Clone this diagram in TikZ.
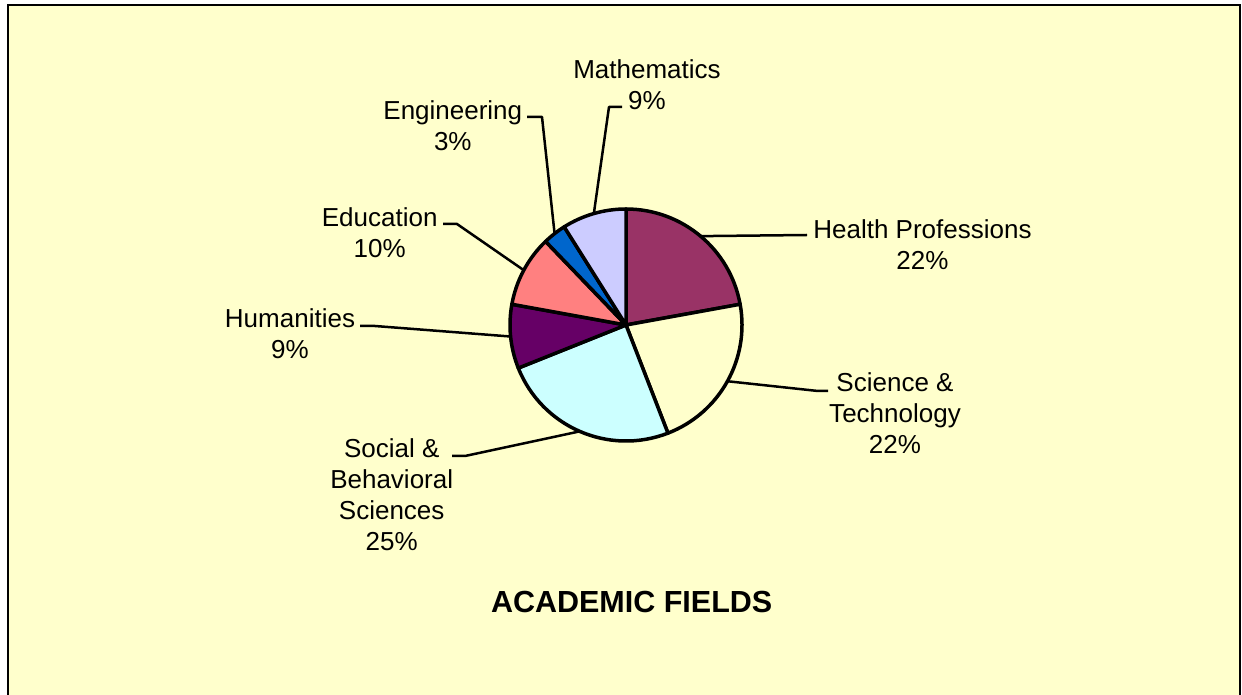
\documentclass[tikz,border=0pt]{standalone}
\usepackage{fontspec}
\setmainfont{Liberation Sans}
\usepackage{xcolor}
\usetikzlibrary{calc}

\definecolor{chartbg}{HTML}{FFFFCC}
\definecolor{healthcol}{HTML}{993366}
\definecolor{sciencecol}{HTML}{FFFFCC}
\definecolor{socialcol}{HTML}{CCFFFF}
\definecolor{humancol}{HTML}{660066}
\definecolor{educol}{HTML}{FF8080}
\definecolor{engcol}{HTML}{0066CC}
\definecolor{mathcol}{HTML}{CCCCFF}

\begin{document}
\begin{tikzpicture}[x=1pt,y=1pt,
                    pie slice/.style={draw=black,line width=3.5pt,line join=round},
                    leader/.style={draw=black,line width=2.5pt,line join=round},
                    label text/.style={align=center,anchor=north,inner sep=0pt,
                                       font=\fontsize{26}{31}\selectfont}]
\useasboundingbox (0,0) rectangle (1242,694);
\clip (0,0) rectangle (1242,694);
\filldraw[fill=chartbg,line width=2pt] (8,-10) rectangle (1240,689);

% pie
\coordinate (c) at (626,369);
\filldraw[pie slice,fill=healthcol] (c) -- ++(90:116) arc[start angle=90,end angle=10.3,radius=116] -- cycle;
\filldraw[pie slice,fill=sciencecol] (c) -- ++(10.3:116) arc[start angle=10.3,end angle=-68.8,radius=116] -- cycle;
\filldraw[pie slice,fill=socialcol] (c) -- ++(-68.8:116) arc[start angle=-68.8,end angle=-158.2,radius=116] -- cycle;
\filldraw[pie slice,fill=humancol] (c) -- ++(-158.2:116) arc[start angle=-158.2,end angle=-190.3,radius=116] -- cycle;
\filldraw[pie slice,fill=educol] (c) -- ++(-190.3:116) arc[start angle=-190.3,end angle=-226.1,radius=116] -- cycle;
\filldraw[pie slice,fill=engcol] (c) -- ++(-226.1:116) arc[start angle=-226.1,end angle=-237.8,radius=116] -- cycle;
\filldraw[pie slice,fill=mathcol] (c) -- ++(-237.8:116) arc[start angle=-237.8,end angle=-270,radius=116] -- cycle;

% labels
\node[label text] (health) at (922.5,474.7) {Health Professions\\22\%};
\node[label text] (science) at (895,321.7) {Science \&\\Technology\\22\%};
\node[label text] (social) at (391.7,256) {Social \&\\Behavioral\\Sciences\\25\%};
\node[label text] (humanities) at (290,386) {Humanities\\9\%};
\node[label text] (education) at (379.7,486.7) {Education\\10\%};
\node[label text] (engineering) at (452.8,594) {Engineering\\3\%};
\node[label text] (maths) at (647,634.7) {Mathematics\\9\%};
\node[label text,font=\fontsize{30.5}{35}\selectfont\bfseries] (title) at (631.7,102.8) {ACADEMIC FIELDS};

% leader points
\coordinate (hp) at ($(c)+(50:116)$);
\coordinate (st) at ($(c)+(-29:116)$);
\coordinate (sb) at ($(c)+(-113.5:116)$);
\coordinate (hu) at ($(c)+(-174.3:116)$);
\coordinate (ed) at ($(c)+(151.8:116)$);
\coordinate (en) at ($(c)+(128:116)$);
\coordinate (ma) at ($(c)+(106.1:116)$);
\coordinate (hp end) at (807,459);
\coordinate (st bend) at (818,303);
\coordinate (st end) at (828,303);
\coordinate (sb bend) at (465,238);
\coordinate (sb end) at (452,238);
\coordinate (hu bend) at (375,368);
\coordinate (hu end) at (360,368);
\coordinate (ed bend) at (457,470);
\coordinate (ed end) at (443,470);
\coordinate (en bend) at (542,577);
\coordinate (en end) at (527,577);
\coordinate (ma bend) at (609,587);
\coordinate (ma end) at (622,587);

\path[leader]
  (hp) -- (hp end)
  (st) -- (st bend) -- (st end)
  (sb) -- (sb bend) -- (sb end)
  (hu) -- (hu bend) -- (hu end)
  (ed) -- (ed bend) -- (ed end)
  (en) -- (en bend) -- (en end)
  (ma) -- (ma bend) -- (ma end);

\end{tikzpicture}
\end{document}
